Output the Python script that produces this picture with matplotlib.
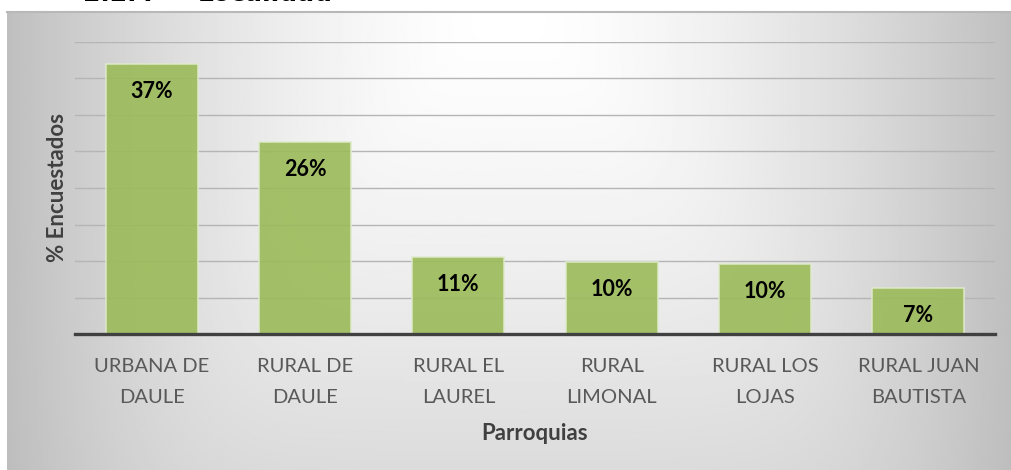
import numpy as np
import matplotlib
matplotlib.use("Agg")
import matplotlib.pyplot as plt

categories = ["URBANA DE\nDAULE", "RURAL DE\nDAULE", "RURAL EL\nLAUREL",
              "RURAL\nLIMONAL", "RURAL LOS\nLOJAS", "RURAL JUAN\nBAUTISTA"]
values = [37.0, 26.3, 10.6, 9.9, 9.6, 6.3]
labels = ["37%", "26%", "11%", "10%", "10%", "7%"]
gridlevels = [5, 10, 15, 20, 25, 30, 35, 40]

plt.rcParams['font.family'] = ['Lato', 'DejaVu Sans']

W, H = 1011, 470
fig = plt.figure(figsize=(W / 100, H / 100), dpi=100)

# background gradient panel
bx0, by_top = 7, 12
bg = fig.add_axes([bx0 / W, 0, 1 - bx0 / W, (H - by_top) / H])
nx, ny = 400, 200
xx = np.linspace(-1, 1, nx)
yy = np.linspace(0, 1, ny)
X, Y = np.meshgrid(xx, yy)
a = 0.25 * np.abs(X) ** 1.6
b = 0.14 * Y ** 1.3
d = (a ** 4 + b ** 4) ** 0.25
img = np.clip(1 - d, 0, 1)
bg.imshow(img, cmap="gray", vmin=0, vmax=1, aspect="auto",
          extent=[0, 1, 0, 1], origin="upper", interpolation="bilinear")
bg.set_xlim(0, 1); bg.set_ylim(0, 1)
bg.axis("off")
bg.plot([0, 1], [1, 1], color="#b8b8b8", lw=1.5, clip_on=False)

# heading cut off at top (only its lower edge is visible in the source)
fig.text(83 / W, 1 - 0.8 / H, "2.2.4", fontsize=18, fontweight="bold",
         family="DejaVu Sans", va="baseline", ha="left", color="black")
fig.text(198 / W, 1 - 0.8 / H, "Localidad", fontsize=18, fontweight="bold",
         family="DejaVu Sans", va="baseline", ha="left", color="black")

# main axes
x0, x1 = 75, 995
ytop, ybase = 42, 334
ax = fig.add_axes([x0 / W, (H - ybase) / H, (x1 - x0) / W, (ybase - ytop) / H])
ax.patch.set_alpha(0)
xs = np.arange(len(categories))
for g in gridlevels:
    ax.axhline(g, color="#b5b5b5", lw=1.0, zorder=1)
ax.bar(xs, values, width=0.6, color="#9bbb59", alpha=0.9,
       edgecolor="#dfeacb", linewidth=1.2, zorder=2)
for x, v, t in zip(xs, values, labels):
    ax.annotate(t, (x, v), xytext=(0, -20), textcoords="offset points",
                ha="center", va="center", fontsize=15.5, fontweight="bold",
                color="black", zorder=4)
ax.axhline(0, color="#404040", lw=2.4, zorder=3, clip_on=False)
ax.set_xlim(-0.5, len(categories) - 0.5)
ax.set_ylim(0, 40)
ax.set_yticks([])
ax.set_xticks(xs)
ax.set_xticklabels(categories, fontsize=14.5, color="#595959", linespacing=1.95)
ax.tick_params(axis="x", length=0, pad=17.5)
for s in ax.spines.values():
    s.set_visible(False)

fig.text(535 / W, 1 - 434 / H, "Parroquias", fontsize=16, fontweight="bold",
         color="#404040", ha="center", va="center")
fig.text(58 / W, 1 - 188 / H, "% Encuestados", fontsize=16, fontweight="bold",
         color="#404040", ha="center", va="center", rotation=90)

fig.savefig("out.png", dpi=100)
